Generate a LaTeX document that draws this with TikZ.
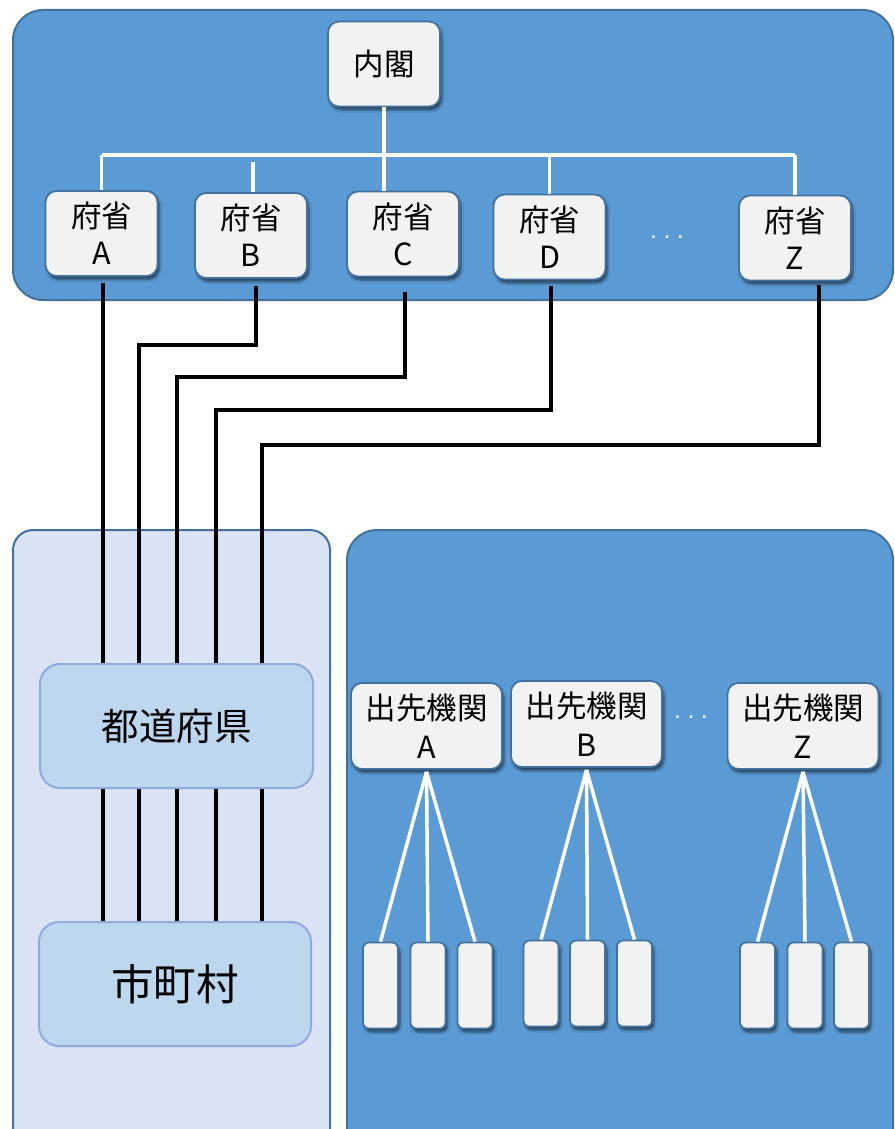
\documentclass[tikz,border=0pt]{standalone}
\usepackage{fontspec}
\setmainfont{Noto Sans CJK JP}
\newfontfamily\dotfont{Liberation Sans}
\usetikzlibrary{shadows.blur,calc}
\definecolor{midblue}{HTML}{5B9BD5}
\definecolor{edge}{HTML}{41719C}
\definecolor{boxgray}{HTML}{F2F2F2}
\definecolor{paleblue}{HTML}{DAE3F3}
\definecolor{prefill}{HTML}{BDD7EE}
\definecolor{predge}{HTML}{8FAADC}
\begin{document}
\begin{tikzpicture}[x=1pt,y=-1pt,
  panel/.style={draw=edge,line width=2pt,fill=midblue,rounded corners=30pt},
  lpanel/.style={draw=edge,line width=2pt,fill=paleblue,rounded corners=20pt},
  card/.style={draw=edge,line width=1.8pt,fill=boxgray,rounded corners=11pt,
    blur shadow={shadow xshift=2pt,shadow yshift=-3.5pt,shadow opacity=55,shadow blur steps=6},
    align=center,inner sep=0pt,text=black},
  ministry/.style={card,minimum width=112pt,minimum height=85pt,font=\fontsize{30.5}{37}\selectfont},
  office/.style={card,minimum width=151pt,minimum height=86pt,font=\fontsize{30.5}{39}\selectfont},
  unit/.style={card,rounded corners=6pt,minimum width=35pt,minimum height=86pt},
  local/.style={draw=predge,line width=2pt,fill=prefill,rounded corners=20pt,inner sep=0pt,
    minimum width=273pt,minimum height=124pt},
  wht/.style={draw=white,line width=3.5pt},
  blk/.style={draw=black,line width=3.5pt},
  dots/.style={text=white,font=\dotfont\fontsize{25}{25}\selectfont,inner sep=0pt}
]
\useasboundingbox (0,0) rectangle (894,1129);
\clip (0,0) rectangle (894,1129);

% panels
\path[panel] (13,10) rectangle (893,300);
\path[lpanel] (13,530) rectangle (330,1170);
\path[panel] (347,530) rectangle (893,1170);

% top organisation
\node[ministry] (naikaku) at (384,64) {内閣};
\node[ministry] (fA) at (101.5,233.5) {府省\\A};
\node[ministry] (fB) at (251,235.5) {府省\\B};
\node[ministry] (fC) at (403,234) {府省\\C};
\node[ministry] (fD) at (549.5,237) {府省\\D};
\node[ministry] (fZ) at (795,238) {府省\\Z};
\node[dots] (dotsTop) at (667,237) {.\kern6.5pt.\kern6.5pt.};

\coordinate (bus) at (0,155);
\draw[wht] (naikaku.south) -- (naikaku.south |- fC.north);
\draw[wht] (bus -| fA.north) -- (bus -| fZ.north);
\draw[wht] (bus -| fA.north) -- (fA.north);
\draw[wht] (bus -| fD.north) -- (fD.north);
\draw[wht] (bus -| fZ.north) -- (fZ.north);
\coordinate (stubB) at (253,162);
\draw[wht] (stubB) -- (stubB |- fB.north);

% local government
\node[local,font=\fontsize{37.5}{37.5}\selectfont] (pref) at (176.5,726) {都道府県};
\node[local,minimum width=272pt,font=\fontsize{42.5}{42.5}\selectfont] (city) at (175,984) {市町村};

\coordinate (kA) at (103,300);
\coordinate (kB) at (139,345);
\coordinate (kC) at (177,377);
\coordinate (kD) at (216,410);
\coordinate (kZ) at (262,445);
\draw[blk] ([xshift=1.5pt,yshift=-6pt]fA.south) -- (kA |- pref.north);
\draw[blk] ([xshift=5pt,yshift=-7.5pt]fB.south) |- (kB) -- (kB |- pref.north);
\draw[blk] ([xshift=2pt,yshift=-15pt]fC.south) |- (kC) -- (kC |- pref.north);
\draw[blk] ([xshift=1.5pt,yshift=-6pt]fD.south) |- (kD) -- (kD |- pref.north);
\draw[blk] ([xshift=24pt,yshift=-4pt]fZ.south) |- (kZ) -- (kZ |- pref.north);
\foreach \k in {kA,kB,kC,kD,kZ}{
  \draw[blk] (\k |- pref.south) -- (\k |- city.north);
}

% regional offices
\node[office] (dA) at (426.5,726) {出先機関\\A};
\node[office] (dB) at (586.5,724) {出先機関\\B};
\node[office] (dZ) at (803,726) {出先機関\\Z};
\node[dots] (dotsMid) at (691,717) {.\kern6.5pt.\kern6.5pt.};

\node[unit] (a1) at (380.5,985.5) {};
\node[unit] (a2) at (428,985.5) {};
\node[unit] (a3) at (475,985.5) {};
\node[unit] (b1) at (541,983.5) {};
\node[unit] (b2) at (587.5,983.5) {};
\node[unit] (b3) at (634.5,983.5) {};
\node[unit] (z1) at (757.5,985.5) {};
\node[unit] (z2) at (805,985.5) {};
\node[unit] (z3) at (851.5,985.5) {};

\foreach \o/\a/\b/\c in {dA/a1/a2/a3,dB/b1/b2/b3,dZ/z1/z2/z3}{
  \draw[wht] ([yshift=-2pt]\o.south) -- (\a.north);
  \draw[wht] ([yshift=-2pt]\o.south) -- (\b.north);
  \draw[wht] ([yshift=-2pt]\o.south) -- (\c.north);
}
\end{tikzpicture}
\end{document}
